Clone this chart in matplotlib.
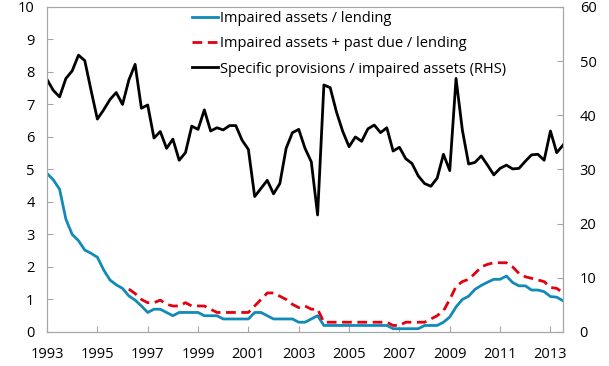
import matplotlib
matplotlib.use("Agg")
import matplotlib.pyplot as plt
import numpy as np

# quarterly observations, 1993 Q1 onwards
start_year = 1993
impaired = [4.88, 4.68, 4.39, 3.47, 3.0, 2.81, 2.52, 2.42, 2.30, 1.91,
            1.6, 1.45, 1.34, 1.11, 0.98, 0.8, 0.6, 0.7, 0.7, 0.6,
            0.5, 0.6, 0.6, 0.6, 0.6, 0.5, 0.5, 0.5, 0.4, 0.4,
            0.4, 0.4, 0.4, 0.6, 0.6, 0.5, 0.4, 0.4, 0.4, 0.4,
            0.3, 0.3, 0.4, 0.5, 0.2, 0.2, 0.2, 0.2, 0.2, 0.2,
            0.2, 0.2, 0.2, 0.2, 0.2, 0.1, 0.1, 0.1, 0.1, 0.1,
            0.2, 0.2, 0.2, 0.3, 0.46, 0.77, 1.0, 1.1, 1.31, 1.43,
            1.53, 1.62, 1.62, 1.72, 1.52, 1.42, 1.42, 1.29, 1.29, 1.24,
            1.09, 1.07, 0.96]
impaired_past_due = [None] * 13 + [
            1.32, 1.18, 1.0, 0.9, 0.9, 0.98, 0.85, 0.8,
            0.8, 0.9, 0.8, 0.8, 0.8, 0.7, 0.6, 0.6, 0.6, 0.6,
            0.6, 0.6, 0.8, 1.0, 1.2, 1.2, 1.1, 1.0, 0.85, 0.75,
            0.8, 0.7, 0.7, 0.3, 0.3, 0.3, 0.3, 0.3, 0.3, 0.3,
            0.3, 0.3, 0.3, 0.3, 0.2, 0.2, 0.3, 0.3, 0.3,
            0.3, 0.4, 0.5, 0.65, 1.0, 1.4, 1.55, 1.62, 1.8, 2.0,
            2.08, 2.13, 2.13, 2.13, 2.0, 1.8, 1.7, 1.65, 1.6, 1.55,
            1.37, 1.34, 1.21]
provisions = [46.6, 44.6, 43.4, 46.8, 48.2, 51.1, 50.1, 44.6, 39.3, 41.0,
              42.9, 44.2, 42.0, 46.5, 49.4, 41.3, 41.9, 35.8, 37.0, 33.9,
              35.6, 31.7, 33.1, 38.0, 37.4, 41.0, 37.1, 37.7, 37.3, 38.1,
              38.1, 35.4, 33.7, 25.0, 26.5, 28.0, 25.5, 27.4, 33.9, 36.8,
              37.4, 33.9, 31.4, 21.6, 45.6, 45.1, 40.6, 37.0, 34.2, 36.0,
              35.2, 37.5, 38.2, 36.8, 37.7, 33.4, 34.1, 32.0, 31.1, 28.8,
              27.4, 26.9, 28.4, 32.8, 29.8, 46.8, 37.3, 31.0, 31.3, 32.5,
              30.8, 29.0, 30.2, 30.8, 30.1, 30.2, 31.5, 32.7, 32.8, 31.7,
              37.1, 33.1, 34.5]

x = start_year + np.arange(len(impaired)) / 4
past_due = np.array([np.nan if v is None else v for v in impaired_past_due])

plt.rcParams['font.family'] = ['Open Sans', 'DejaVu Sans']
grey = '#a6a6a6'

fig = plt.figure(figsize=(6.09, 3.66), dpi=100)
ax = fig.add_axes([0.0772, 0.093, 0.8473, 0.888])
ax2 = ax.twinx()

l1, = ax.plot(x, impaired, color='#118ab8', lw=2.0, label='Impaired assets / lending')
l2, = ax.plot(x, past_due, color='#e3000f', lw=2.0, dashes=(3.5, 2),
              label='Impaired assets + past due / lending')
l3, = ax2.plot(x, provisions, color='black', lw=2.0,
               label='Specific provisions / impaired assets (RHS)')

ax.set_xlim(1993, 2013.5)
ax.set_ylim(0, 10)
ax2.set_ylim(0, 60)
ax.set_xticks(np.arange(1993, 2014, 2))
ax.set_yticks(range(0, 11))
ax2.set_yticks(range(0, 61, 10))

for a in (ax, ax2):
    for s in a.spines.values():
        s.set_color(grey)
    a.tick_params(direction='in', color=grey, length=4, labelsize=10.5,
                  labelcolor='black')
ax.tick_params(axis='y', pad=9)
ax.tick_params(axis='x', pad=11)
ax2.tick_params(axis='y', pad=12)
ax.spines['top'].set_color('#d9d9d9')

ax.legend(handles=[l1, l2, l3], loc='upper left', bbox_to_anchor=(0.27, 1.005),
          frameon=False, fontsize=10.5, handlelength=1.8, handletextpad=0.1,
          labelspacing=0.7, borderaxespad=0)

fig.savefig('out.png', dpi=100)
